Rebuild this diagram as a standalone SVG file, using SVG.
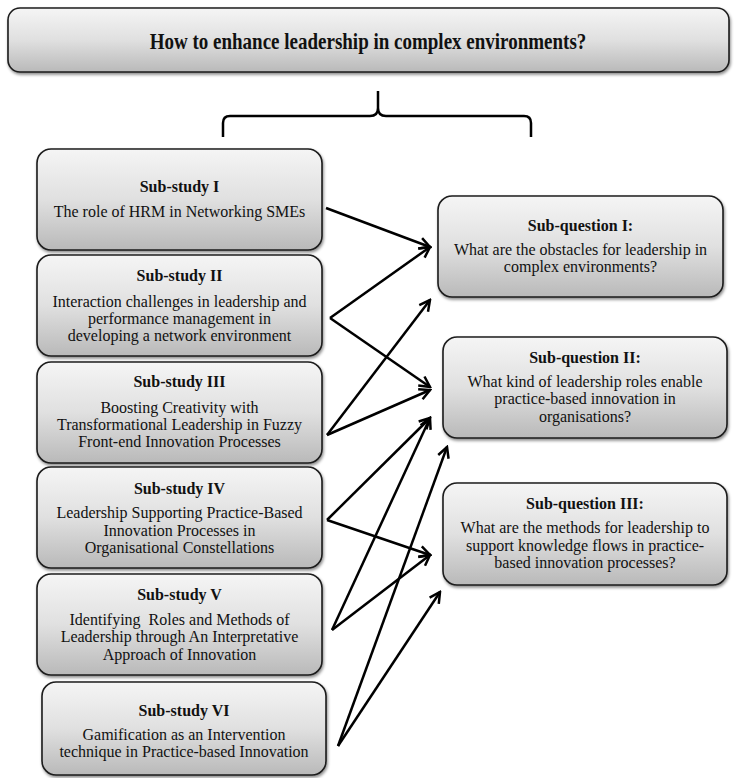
<svg xmlns="http://www.w3.org/2000/svg" width="736" height="778" viewBox="0 0 736 778">
  <defs>
    <linearGradient id="boxFill" x1="0" y1="0" x2="0" y2="1">
      <stop offset="0" stop-color="#f5f5f5"/>
      <stop offset="0.5" stop-color="#e0e0e0"/>
      <stop offset="1" stop-color="#b9b9b9"/>
    </linearGradient>
    <filter id="shadow" x="-5%" y="-5%" width="115%" height="125%">
      <feDropShadow dx="1" dy="2" stdDeviation="1.5" flood-color="#000" flood-opacity="0.45"/>
    </filter>
    <marker id="arrow" viewBox="0 0 14 14" refX="12" refY="7" markerWidth="14" markerHeight="14" markerUnits="userSpaceOnUse" orient="auto">
      <path d="M1.5,1.5 L12,7 L1.5,12.5" fill="none" stroke="#000" stroke-width="2.5" stroke-linejoin="miter"/>
    </marker>
    <style>
      .box { fill: url(#boxFill); stroke: #1c1c1c; stroke-width: 1.6; filter: url(#shadow); }
      text { font-family: "Liberation Serif", "Times New Roman", serif; fill: #111; text-anchor: middle; }
      .head { font-weight: bold; font-size: 16px; }
      .body { font-size: 16px; }
      .title { font-weight: bold; font-size: 19px; }
      .conn { stroke: #000; stroke-width: 2.5; fill: none; marker-end: url(#arrow); }
      .brace { stroke: #000; stroke-width: 2.5; fill: none; }
    </style>
  </defs>

  <rect width="736" height="778" fill="#fff"/>

  <!-- main research question -->
  <g id="main-question">
    <rect class="box" x="8" y="8" width="721" height="64" rx="12"/>
    <text class="title" transform="translate(368,49) scale(1,1.22)" x="0" y="0">How to enhance leadership in complex environments?</text>
  </g>

  <!-- curly brace under the main question -->
  <g id="brace">
    <path class="brace" d="M223,137 V123 Q223,116 230,116 H370 Q378,116 378,108 V91 M378,108 Q378,116 386,116 H524 Q531,116 531,123 V137"/>
  </g>

  <!-- sub-studies -->
  <g id="sub-study-1">
    <rect class="box" x="37" y="149" width="285" height="101" rx="14"/>
    <text class="head" x="179.5" y="192">Sub-study I</text>
    <text class="body" x="179.5" y="217">The role of HRM in Networking SMEs</text>
  </g>
  <g id="sub-study-2">
    <rect class="box" x="37" y="255" width="285" height="101" rx="14"/>
    <text class="head" x="179.5" y="281">Sub-study II</text>
    <text class="body" x="179.5" y="307">Interaction challenges in leadership and</text>
    <text class="body" x="179.5" y="324">performance management in</text>
    <text class="body" x="179.5" y="341">developing a network environment</text>
  </g>
  <g id="sub-study-3">
    <rect class="box" x="37" y="362" width="285" height="101" rx="14"/>
    <text class="head" x="179.5" y="387">Sub-study III</text>
    <text class="body" x="179.5" y="413">Boosting Creativity with</text>
    <text class="body" x="179.5" y="430">Transformational Leadership in Fuzzy</text>
    <text class="body" x="179.5" y="447">Front-end Innovation Processes</text>
  </g>
  <g id="sub-study-4">
    <rect class="box" x="37" y="467" width="285" height="101" rx="14"/>
    <text class="head" x="179.5" y="494">Sub-study IV</text>
    <text class="body" x="179.5" y="518">Leadership Supporting Practice-Based</text>
    <text class="body" x="179.5" y="536">Innovation Processes in</text>
    <text class="body" x="179.5" y="553">Organisational Constellations</text>
  </g>
  <g id="sub-study-5">
    <rect class="box" x="37" y="574" width="285" height="101" rx="14"/>
    <text class="head" x="179.5" y="600">Sub-study V</text>
    <text class="body" x="179.5" y="625" xml:space="preserve">Identifying  Roles and Methods of</text>
    <text class="body" x="179.5" y="642">Leadership through An Interpretative</text>
    <text class="body" x="179.5" y="660">Approach of Innovation</text>
  </g>
  <g id="sub-study-6">
    <rect class="box" x="42" y="682" width="284" height="93" rx="14"/>
    <text class="head" x="184" y="716">Sub-study VI</text>
    <text class="body" x="184" y="740">Gamification as an Intervention</text>
    <text class="body" x="184" y="757">technique in Practice-based Innovation</text>
  </g>

  <!-- sub-questions -->
  <g id="sub-question-1">
    <rect class="box" x="438" y="196" width="285" height="101" rx="14"/>
    <text class="head" x="580.5" y="231">Sub-question I:</text>
    <text class="body" x="580.5" y="255">What are the obstacles for leadership in</text>
    <text class="body" x="580.5" y="272">complex environments?</text>
  </g>
  <g id="sub-question-2">
    <rect class="box" x="443" y="337" width="284" height="101" rx="14"/>
    <text class="head" x="585" y="363">Sub-question II:</text>
    <text class="body" x="585" y="387">What kind of leadership roles enable</text>
    <text class="body" x="585" y="404">practice-based innovation in</text>
    <text class="body" x="585" y="422">organisations?</text>
  </g>
  <g id="sub-question-3">
    <rect class="box" x="443" y="483" width="284" height="102" rx="14"/>
    <text class="head" x="585" y="509">Sub-question III:</text>
    <text class="body" x="585" y="533">What are the methods for leadership to</text>
    <text class="body" x="585" y="551">support knowledge flows in practice-</text>
    <text class="body" x="585" y="568">based innovation processes?</text>
  </g>

  <!-- links from sub-studies to sub-questions -->
  <g id="connectors">
    <line class="conn" x1="326" y1="208" x2="430" y2="247"/>
    <line class="conn" x1="330" y1="318" x2="430" y2="247"/>
    <line class="conn" x1="330" y1="318" x2="430" y2="387"/>
    <line class="conn" x1="327" y1="435" x2="430" y2="300"/>
    <line class="conn" x1="327" y1="435" x2="430" y2="390"/>
    <line class="conn" x1="327" y1="520" x2="430" y2="418"/>
    <line class="conn" x1="327" y1="520" x2="430" y2="555"/>
    <line class="conn" x1="332" y1="630" x2="430" y2="418"/>
    <line class="conn" x1="332" y1="630" x2="430" y2="555"/>
    <line class="conn" x1="338" y1="746" x2="447" y2="447"/>
    <line class="conn" x1="338" y1="746" x2="440" y2="592"/>
  </g>
</svg>
